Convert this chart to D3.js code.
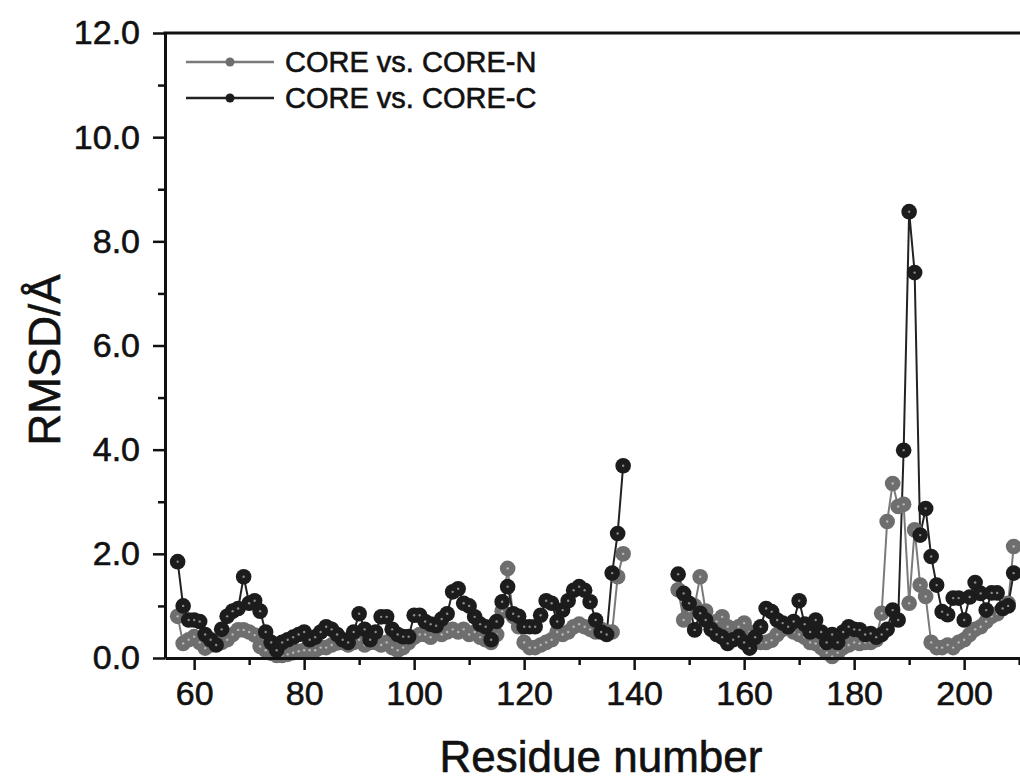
<!DOCTYPE html>
<html>
<head>
<meta charset="utf-8">
<script src="https://cdn.jsdelivr.net/npm/d3@7"></script>
<style>
  body { margin: 0; background: #fff; }
  svg { display: block; }
  text { font-family: Arial, "Liberation Sans", sans-serif; fill: #111; stroke: #111; stroke-width: 0.6px; }
</style>
</head>
<body>
<div id="chart"></div>
<script>
// residue numbers run from 57 to 209, values are read off the picture (null = no data)
var firstResidue = 57;

// CORE vs. CORE-N (grey)
var coreN = [
  0.80, 0.28, 0.35, 0.41, 0.30, 0.19, 0.25, 0.29, 0.30, 0.35,   // 57-66
  0.45, 0.54, 0.54, 0.50, 0.44, 0.22, 0.15, 0.09, 0.05, 0.05,   // 67-76
  0.07, 0.10, 0.13, 0.15, 0.15, 0.15, 0.20, 0.20, 0.25, 0.29,   // 77-86
  0.30, 0.25, 0.30, 0.35, 0.25, 0.30, 0.30, 0.25, 0.30, 0.20,   // 87-96
  0.15, 0.20, 0.30, 0.40, 0.45, 0.45, 0.40, 0.50, 0.45, 0.50,   // 97-106
  0.55, 0.50, 0.55, 0.45, 0.50, 0.40, 0.35, 0.30, 0.45, 0.90,   // 107-116
  1.72, 0.80, 0.60, 0.30, 0.20, 0.20, 0.25, 0.30, 0.35, 0.50,   // 117-126
  0.45, 0.50, 0.60, 0.65, 0.60, 0.55, 0.50, 0.55, 0.50, 0.50,   // 127-136
  1.56, 2.00,                                                   // 137-138
  null, null, null, null, null, null, null, null, null,         // 139-147
  1.31, 0.73, 0.90, 1.00, 1.56, 0.90, 0.65, 0.70, 0.79, 0.60,   // 148-157
  0.50, 0.60, 0.67, 0.50, 0.35, 0.30, 0.30, 0.34, 0.45, 0.55,   // 158-167
  0.60, 0.50, 0.45, 0.40, 0.30, 0.28, 0.20, 0.10, 0.03, 0.10,   // 168-177
  0.20, 0.25, 0.30, 0.28, 0.30, 0.30, 0.35, 0.86, 2.62, 3.35,   // 178-187
  2.91, 2.95, 1.05, 2.46, 1.40, 1.18, 0.30, 0.20, 0.20, 0.25,   // 188-197
  0.20, 0.30, 0.35, 0.45, 0.55, 0.60, 0.70, 0.80, 0.85, 0.95,   // 198-207
  1.05, 2.14                                                    // 208-209
];

// CORE vs. CORE-C (black)
var coreC = [
  1.85, 1.00, 0.73, 0.73, 0.70, 0.45, 0.35, 0.25, 0.55, 0.80,   // 57-66
  0.90, 0.95, 1.56, 1.05, 1.10, 0.90, 0.50, 0.30, 0.15, 0.30,   // 67-76
  0.35, 0.40, 0.45, 0.50, 0.35, 0.40, 0.50, 0.60, 0.55, 0.45,   // 77-86
  0.35, 0.30, 0.50, 0.85, 0.55, 0.35, 0.50, 0.79, 0.79, 0.55,   // 87-96
  0.45, 0.41, 0.41, 0.82, 0.82, 0.70, 0.65, 0.62, 0.75, 0.85,   // 97-106
  1.27, 1.33, 1.05, 1.00, 0.79, 0.65, 0.60, 0.35, 0.70, 1.08,   // 107-116
  1.37, 0.85, 0.80, 0.60, 0.60, 0.60, 0.82, 1.10, 1.05, 0.70,   // 117-126
  0.92, 1.10, 1.30, 1.37, 1.30, 1.08, 0.73, 0.50, 0.45, 1.63,   // 127-136
  2.39, 3.69,                                                   // 137-138
  null, null, null, null, null, null, null, null, null,         // 139-147
  1.61, 1.24, 1.05, 0.54, 0.86, 0.73, 0.55, 0.45, 0.40, 0.28,   // 148-157
  0.35, 0.41, 0.30, 0.19, 0.40, 0.60, 0.95, 0.89, 0.73, 0.67,   // 158-167
  0.60, 0.70, 1.10, 0.65, 0.50, 0.73, 0.50, 0.30, 0.45, 0.30,   // 168-177
  0.50, 0.60, 0.55, 0.54, 0.45, 0.47, 0.40, 0.45, 0.55, 0.92,   // 178-187
  0.73, 3.99, 8.57, 7.40, 2.36, 2.87, 1.95, 1.40, 0.89, 0.83,   // 188-197
  1.15, 1.15, 0.73, 1.17, 1.45, 1.24, 0.92, 1.25, 1.25, 0.95,   // 198-207
  1.00, 1.63                                                    // 208-209
];

var xMajor = [60, 80, 100, 120, 140, 160, 180, 200];
var xMinor = [70, 90, 110, 130, 150, 170, 190, 210];
var yMajor = [0, 2, 4, 6, 8, 10, 12];
var yMinor = [1, 3, 5, 7, 9, 11];

var seriesNames = ["CORE vs. CORE-N", "CORE vs. CORE-C"];
var lineColors = ["#7a7a7a", "#222222"];
var dotColors = ["#6e6e6e", "#1c1c1c"];
var glintColors = ["#b8b8b8", "#8a8a8a"];

(function () {
  var width = 1020, height = 783;

  var svg = d3.select("#chart")
      .append("svg")
      .attr("width", width)
      .attr("height", height);

  // plot frame: left spine at 165, zero line at 658, top at 33 (runs off the right edge)
  var x = d3.scaleLinear()
      .domain([54.7, 215])
      .range([165, 165 + (215 - 54.7) * 5.5]);
  var y = d3.scaleLinear()
      .domain([0, 12])
      .range([658, 33]);

  function pts(vals) {
    return vals.map(function (v, i) { return { r: firstResidue + i, v: v }; });
  }
  var data = [pts(coreN), pts(coreC)];

  var line = d3.line()
      .defined(function (d) { return d.v !== null; })
      .x(function (d) { return x(d.r); })
      .y(function (d) { return y(d.v); });

  var plot = svg.append("g");

  data.forEach(function (s, k) {
    plot.append("path")
        .datum(s)
        .attr("d", line)
        .attr("fill", "none")
        .attr("stroke", lineColors[k])
        .attr("stroke-width", 2);
  });

  data.forEach(function (s, k) {
    var g = plot.append("g");
    var kept = s.filter(function (d) { return d.v !== null; });
    g.selectAll(".dot")
        .data(kept)
        .enter().append("circle")
        .attr("cx", function (d) { return x(d.r); })
        .attr("cy", function (d) { return y(d.v); })
        .attr("r", 7.8)
        .attr("fill", dotColors[k]);
    g.selectAll(".glint")
        .data(kept)
        .enter().append("circle")
        .attr("cx", function (d) { return x(d.r); })
        .attr("cy", function (d) { return y(d.v); })
        .attr("r", 1.2)
        .attr("fill", glintColors[k]);
  });

  // axes
  svg.append("g")
      .attr("transform", "translate(0," + y(0) + ")")
      .call(d3.axisBottom(x).tickValues(xMajor).tickSize(12).tickSizeOuter(0)
            .tickPadding(11).tickFormat(d3.format("d")));
  svg.append("g")
      .attr("transform", "translate(0," + y(0) + ")")
      .call(d3.axisBottom(x).tickValues(xMinor).tickSize(7).tickSizeOuter(0).tickFormat(""))
      .select(".domain").remove();

  svg.append("g")
      .attr("transform", "translate(" + x.range()[0] + ",0)")
      .call(d3.axisLeft(y).tickValues(yMajor).tickSize(12).tickSizeOuter(0)
            .tickPadding(13).tickFormat(d3.format(".1f")));
  svg.append("g")
      .attr("transform", "translate(" + x.range()[0] + ",0)")
      .call(d3.axisLeft(y).tickValues(yMinor).tickSize(7).tickSizeOuter(0).tickFormat(""))
      .select(".domain").remove();

  svg.selectAll(".domain").attr("stroke", "#111").attr("stroke-width", 3);
  svg.selectAll(".tick line").attr("stroke", "#111").attr("stroke-width", 2.5);
  svg.selectAll(".tick text")
      .style("font-family", "Arial, 'Liberation Sans', sans-serif")
      .style("font-size", "34px")
      .attr("fill", "#111");

  // top spine
  svg.append("line")
      .attr("x1", x.range()[0] - 1.5).attr("x2", x.range()[1])
      .attr("y1", y(12)).attr("y2", y(12))
      .attr("stroke", "#111").attr("stroke-width", 3);

  // axis titles
  svg.append("text")
      .attr("x", 601).attr("y", 772)
      .attr("text-anchor", "middle")
      .style("font-size", "44px")
      .text("Residue number");

  svg.append("text")
      .attr("transform", "translate(60,360) rotate(-90)")
      .attr("text-anchor", "middle")
      .style("font-size", "44px")
      .text("RMSD/Å");

  // legend
  var legend = svg.append("g");
  seriesNames.forEach(function (name, k) {
    var ly = 62 + k * 36;
    legend.append("line")
        .attr("x1", 186).attr("x2", 274)
        .attr("y1", ly).attr("y2", ly)
        .attr("stroke", lineColors[k]).attr("stroke-width", 2.5);
    legend.append("circle")
        .attr("cx", 230).attr("cy", ly).attr("r", 4.5)
        .attr("fill", dotColors[k]);
    legend.append("text")
        .attr("x", 285).attr("y", ly + 10)
        .style("font-size", "29px")
        .text(name);
  });
})();
</script>
</body>
</html>
